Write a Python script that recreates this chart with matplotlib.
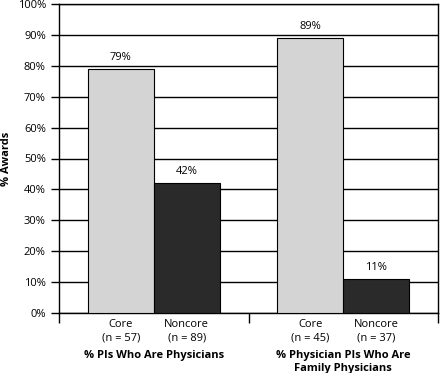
import matplotlib.pyplot as plt
from matplotlib.transforms import blended_transform_factory

groups = ["% PIs Who Are Physicians", "% Physician PIs Who Are\nFamily Physicians"]
core_vals = [79, 89]
noncore_vals = [42, 11]
core_n = [57, 45]
noncore_n = [89, 37]

plt.rcParams['font.family'] = ['Open Sans', 'DejaVu Sans']

fig = plt.figure(figsize=(4.4, 3.73), dpi=100)
ax = fig.add_axes([59 / 440, 60 / 373, 379 / 440, 309 / 373])

w = 0.347
off = 0.174
for i in range(2):
    ax.bar(i + 0.5 - off, core_vals[i], w, color="#d4d4d4", edgecolor="black", linewidth=0.8, zorder=3)
    ax.bar(i + 0.5 + off, noncore_vals[i], w, color="#2a2a2a", edgecolor="black", linewidth=0.8, zorder=3)
    ax.text(i + 0.5 - off, core_vals[i] + 2, "%d%%" % core_vals[i], ha="center", va="bottom", fontsize=8)
    ax.text(i + 0.5 + off, noncore_vals[i] + 2, "%d%%" % noncore_vals[i], ha="center", va="bottom", fontsize=8)

tr = blended_transform_factory(ax.transData, ax.transAxes)
for i in range(2):
    ax.text(i + 0.5 - off, -0.02, "Core\n(n = %d)" % core_n[i], ha="center", va="top",
            fontsize=8, transform=tr, linespacing=1.3)
    ax.text(i + 0.5 + off, -0.02, "Noncore\n(n = %d)" % noncore_n[i], ha="center", va="top",
            fontsize=8, transform=tr, linespacing=1.3)
    ax.text(i + 0.5, -0.12, groups[i], ha="center", va="top", fontsize=8,
            fontweight="bold", transform=tr, linespacing=1.2)

ax.set_xlim(0, 2)
ax.set_ylim(0, 100)
ax.set_yticks(range(0, 101, 10))
ax.set_yticklabels(["%d%%" % v for v in range(0, 101, 10)], fontsize=8)
ax.set_xticks([0, 1, 2])
ax.set_xticklabels([])
ax.tick_params(axis="x", length=7, width=1)
ax.tick_params(axis="y", length=6, width=1)
ax.yaxis.grid(True, color="black", linewidth=1)
ax.set_axisbelow(True)
for s in ax.spines.values():
    s.set_linewidth(1)
ax.set_ylabel("% Awards", fontsize=8, fontweight="bold")
ax.yaxis.set_label_coords(-0.124, 0.5)

fig.savefig("out.png", dpi=100)
